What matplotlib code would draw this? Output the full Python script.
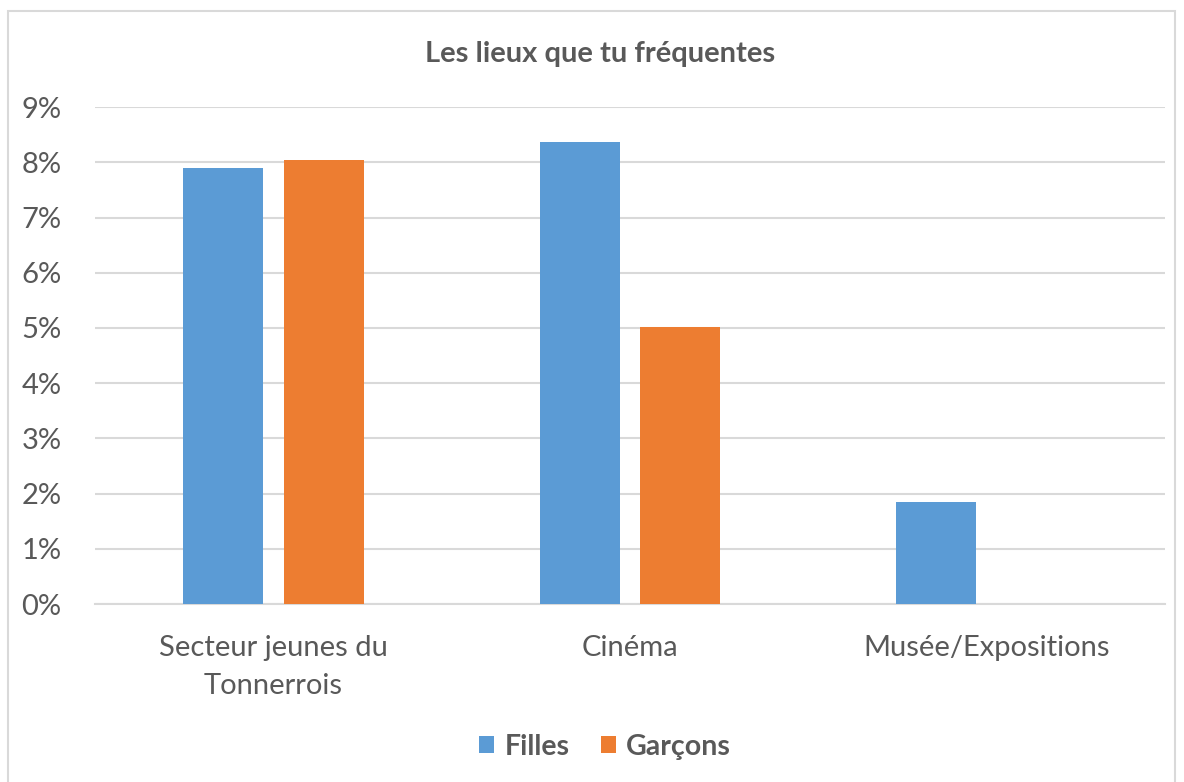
import matplotlib.pyplot as plt
from matplotlib.patches import Rectangle
import numpy as np

plt.rcParams['font.family'] = ['Lato', 'DejaVu Sans']

categories = ['Secteur jeunes du\nTonnerrois', 'Cinéma', 'Musée/Expositions']
filles = [7.90, 8.37, 1.85]
garcons = [8.04, 5.02, 0.0]
yticks = [0, 1, 2, 3, 4, 5, 6, 7, 8, 9]

blue = '#5B9BD5'
orange = '#ED7D31'
grey_txt = '#595959'
grid_col = '#D9D9D9'

fig = plt.figure(figsize=(11.84, 7.82), dpi=100)
ax = fig.add_axes([0.0802, 0.2276, 0.9038, 0.6354])

x = np.arange(len(categories))
w = 0.224
ax.bar(x - 0.141, filles, w, color=blue, label='Filles', zorder=3)
ax.bar(x + 0.141, garcons, w, color=orange, label='Garçons', zorder=3)

ax.set_xlim(-0.5, 2.5)
ax.set_ylim(0, 9)
ax.set_yticks(yticks)
ax.set_yticklabels([f'{v}%' for v in yticks])
ax.set_xticks(x)
ax.set_xticklabels(categories, linespacing=1.6)
ax.tick_params(axis='both', length=0, labelsize=21, labelcolor=grey_txt)
ax.tick_params(axis='y', pad=24)
ax.tick_params(axis='x', pad=22)

ax.yaxis.grid(True, color=grid_col, linewidth=1.5, zorder=0)
for s in ['top', 'right', 'left']:
    ax.spines[s].set_visible(False)
ax.spines['bottom'].set_color(grid_col)
ax.spines['bottom'].set_linewidth(1.5)

fig.text(0.507, 0.931, 'Les lieux que tu fréquentes', ha='center', va='center',
         fontsize=21, fontweight='bold', color=grey_txt)

leg = fig.legend(loc='center', bbox_to_anchor=(0.511, 0.045), ncol=2, frameon=False,
                 prop={'size': 20.5, 'weight': 'bold'}, handlelength=0.55, handleheight=0.55,
                 handletextpad=0.35, columnspacing=1.1)
for t in leg.get_texts():
    t.set_color(grey_txt)

# chart border
fig.patches.append(Rectangle((8 / 1184, -0.01), 1167 / 1184, 1 - 11 / 782 + 0.01,
                             transform=fig.transFigure, fill=False,
                             edgecolor=grid_col, linewidth=1.5))

fig.savefig('out.png', dpi=100)
